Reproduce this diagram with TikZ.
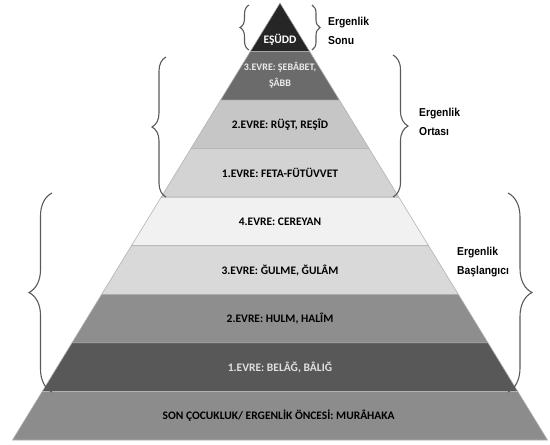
\documentclass[tikz,border=0pt]{standalone}
\usepackage{fontspec}
\setmainfont{Carlito}
\newfontfamily\labelfont[FakeStretch = 0.9]{Liberation Sans}
\usetikzlibrary{positioning, decorations.pathreplacing}

\definecolor{layer0}{HTML}{262626}
\definecolor{layer1}{HTML}{6B6B6B}
\definecolor{layer2}{HTML}{C6C6C6}
\definecolor{layer3}{HTML}{D3D3D3}
\definecolor{layer4}{HTML}{F1F1F1}
\definecolor{layer5}{HTML}{D9D9D9}
\definecolor{layer6}{HTML}{8E8E8E}
\definecolor{layer7}{HTML}{585858}
\definecolor{layer8}{HTML}{8C8C8C}
\definecolor{bracegray}{HTML}{5A5A5A}

\tikzset{
  layer/.style = {draw = white!70!black, line width = .6pt, line join = round},
  stage/.style = {font = \bfseries\fontsize{11.5}{15}\selectfont, align = center, inner sep = 0pt},
  smallstage/.style = {stage, font = \bfseries\fontsize{10}{16}\selectfont},
  ergbrace/.style = {decorate, decoration = {brace, amplitude = #1}, draw = bracegray, line width = 1.1pt},
  grouplabel/.style = {font = \labelfont\bfseries\fontsize{11.5}{18.5}\selectfont, align = left, anchor = west, inner sep = 0pt}
}

\begin{document}
\begin{tikzpicture}[x = 1pt, y = -1pt]
  \useasboundingbox (0,0) rectangle (550,445);

  % pyramid, top to bottom
  \foreach \i/\ty/\st/\tc/\txt in {
      0/40/stage/white/{EŞÜDD},
      1/75.5/smallstage/white!92!black/{3.EVRE: ŞEBÂBET,\\ŞÂBB},
      2/124.4/stage/black/{2.EVRE: RÜŞT, REŞÎD},
      3/172.9/stage/black/{1.EVRE: FETA-FÜTÜVVET},
      4/221.5/stage/black/{4.EVRE: CEREYAN},
      5/270.1/stage/black/{3.EVRE: ĞULME, ĞULÂM},
      6/318.6/stage/black/{2.EVRE: HULM, HALÎM},
      7/367.2/stage/white!88!black/{1.EVRE: BELÂĞ, BÂLIĞ},
      8/415.8/stage/black/{SON ÇOCUKLUK/ ERGENLİK ÖNCESİ: MURÂHAKA}
  }{
    \pgfmathsetmacro\ya{3 + \i*48.556}
    \pgfmathsetmacro\yb{\ya + 48.556}
    \pgfmathsetmacro\wa{(\ya - 3)*0.6121}
    \pgfmathsetmacro\wb{(\yb - 3)*0.6121}
    \filldraw[layer, fill = layer\i] ({280 - \wa}, \ya) -- ({280 + \wa}, \ya)
      -- ({280 + \wb}, \yb) -- ({280 - \wb}, \yb) -- cycle;
    \node[\st, text = \tc] (stage\i) at (280, \ty) {\txt};
  }

  % braces
  \coordinate (sonuLa) at (249, 50);   \coordinate (sonuLb) at (249, 5);
  \coordinate (sonuRa) at (312, 5);    \coordinate (sonuRb) at (312, 50);
  \coordinate (ortaLa) at (166, 197);  \coordinate (ortaLb) at (166, 57);
  \coordinate (ortaRa) at (393, 55);   \coordinate (ortaRb) at (393, 197);
  \coordinate (basLa) at (52, 392);    \coordinate (basLb) at (52, 193);
  \coordinate (basRa) at (508, 193);   \coordinate (basRb) at (508, 392);

  \draw[ergbrace = 9] (sonuLa) -- (sonuLb);
  \draw[ergbrace = 8] (sonuRa) -- (sonuRb);
  \draw[ergbrace = 14] (ortaLa) -- (ortaLb);
  \draw[ergbrace = 15] (ortaRa) -- (ortaRb);
  \draw[ergbrace = 23] (basLa) -- (basLb);
  \draw[ergbrace = 24] (basRa) -- (basRb);

  % group labels
  \node[grouplabel] (sonu) at (328, 31) {Ergenlik\\Sonu};
  \node[grouplabel] (orta) at (419, 122) {Ergenlik\\Ortası};
  \node[grouplabel] (bas) at (457, 262) {Ergenlik\\Başlangıcı};
\end{tikzpicture}
\end{document}
